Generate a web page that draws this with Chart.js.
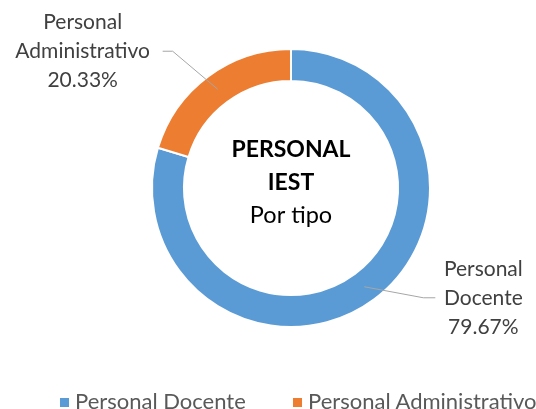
<!DOCTYPE html>
<html>
<head>
<meta charset="utf-8">
<script src="https://cdn.jsdelivr.net/npm/chart.js@4.4.1/dist/chart.umd.min.js"></script>
<style>
  html, body { margin: 0; padding: 0; background: #fff; }
  .wrap { position: relative; width: 536px; height: 409px; }
  .legend { position: absolute; left: 0; top: 390px; width: 536px; height: 22px;
    font-family: Lato, sans-serif; font-size: 22px; color: #595959; }
  .leg { position: absolute; top: 0; line-height: 22px; white-space: nowrap; }
  .leg-sq { display: inline-block; width: 9px; height: 9px; margin-right: 6px; vertical-align: 2px; }
</style>
</head>
<body>
<div class="wrap">
  <canvas id="chart" width="536" height="409"></canvas>
  <div class="legend" id="legend"></div>
</div>
<script>
var LABELS = ['Personal Docente', 'Personal Administrativo'];
var LABEL_LINES = [['Personal', 'Docente'], ['Personal', 'Administrativo']];
var VALUES = [79.67, 20.33];
var COLORS = ['#5B9BD5', '#ED7D31'];
var CENTER_TEXT = ['PERSONAL', 'IEST', 'Por tipo'];

// leader line layout per slice: elbow offset from slice anchor, then horizontal run
var LEADERS = [
  { dx: 59, dy: 11, run: 12, textDx: 48 },
  { dx: -45, dy: -38, run: -10, textDx: -80 }
];

var FONT = 'Lato, sans-serif';

var centerText = {
  id: 'centerText',
  afterDraw: function (chart) {
    var arc = chart.getDatasetMeta(0).data[0];
    var ctx = chart.ctx;
    ctx.save();
    ctx.textAlign = 'center';
    ctx.textBaseline = 'middle';
    ctx.fillStyle = '#000';
    ctx.font = 'bold 23px ' + FONT;
    ctx.fillText(CENTER_TEXT[0], arc.x, arc.y - 38);
    ctx.fillText(CENTER_TEXT[1], arc.x, arc.y - 5);
    ctx.font = '23.5px ' + FONT;
    ctx.fillText(CENTER_TEXT[2], arc.x, arc.y + 27);
    ctx.restore();
  }
};

var sliceLabels = {
  id: 'sliceLabels',
  afterDraw: function (chart) {
    var meta = chart.getDatasetMeta(0);
    var ctx = chart.ctx;
    var total = VALUES.reduce(function (a, b) { return a + b; }, 0);
    ctx.save();
    meta.data.forEach(function (arc, i) {
      var p = arc.tooltipPosition();
      var L = LEADERS[i];
      var ex = p.x + L.dx, ey = p.y + L.dy;
      ctx.strokeStyle = '#A6A6A6';
      ctx.lineWidth = 1;
      ctx.beginPath();
      ctx.moveTo(p.x, p.y);
      ctx.lineTo(ex, ey);
      ctx.lineTo(ex + L.run, ey);
      ctx.stroke();
      var tx = ex + L.run + L.textDx;
      var lines = LABEL_LINES[i].concat([(VALUES[i] / total * 100).toFixed(2) + '%']);
      ctx.fillStyle = '#404040';
      ctx.font = '21px ' + FONT;
      ctx.textAlign = 'center';
      ctx.textBaseline = 'middle';
      lines.forEach(function (t, k) {
        ctx.fillText(t, tx, ey + (k - 1) * 29);
      });
    });
    ctx.restore();
  }
};

var chart = new Chart(document.getElementById('chart'), {
  type: 'doughnut',
  data: {
    labels: LABELS,
    datasets: [{
      data: VALUES,
      backgroundColor: COLORS,
      borderColor: '#fff',
      borderWidth: 2
    }]
  },
  options: {
    responsive: false,
    animation: false,
    cutout: '77%',
    layout: { padding: { left: 46, right: 0, top: 48, bottom: 81 } },
    plugins: {
      legend: { display: false },
      tooltip: { enabled: false }
    }
  },
  plugins: [centerText, sliceLabels]
});

// legend built from the same labels / colors
var legX = [60, 293];
var legend = document.getElementById('legend');
LABELS.forEach(function (name, i) {
  var s = document.createElement('span');
  s.className = 'leg';
  s.style.left = legX[i] + 'px';
  s.innerHTML = '<span class="leg-sq" style="background:' + COLORS[i] + '"></span>' + name;
  legend.appendChild(s);
});
</script>
</body>
</html>
